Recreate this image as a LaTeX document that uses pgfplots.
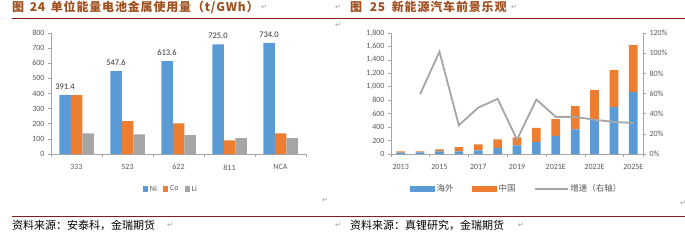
\documentclass[border=0pt]{standalone}
\usepackage{pgfplots}
\pgfplotsset{compat=1.18}
\usepackage{fontspec}
\setmainfont{Carlito}
\newfontfamily\cjk{Noto Sans CJK SC}
\newfontfamily\cjkt{Noto Sans CJK SC}[LetterSpace=7]
\newfontfamily\dejavu{DejaVu Sans}
\definecolor{cblue}{HTML}{5B9BD5}
\definecolor{corange}{HTML}{ED7D31}
\definecolor{cgray}{HTML}{A5A5A5}
\definecolor{txt}{HTML}{595959}
\definecolor{ttl}{HTML}{A0501E}
\definecolor{rulec}{HTML}{8B1A1A}
\begin{document}
\begin{tikzpicture}[x=1pt,y=1pt]
\path[use as bounding box] (0,0) rectangle (685,242);
\pgfplotsset{
 base/.style={scale only axis, clip=false, tick align=outside,
 axis line style={draw=black!35, line width=0.6pt},
 tick style={draw=black!35, line width=0.6pt},
 ticklabel style={font=\fontsize{8}{9}\selectfont, text=txt},
 /pgf/number format/assume math mode=true,
 /pgf/number format/1000 sep={,},
 major tick length=3pt, minor tick length=3pt},
}
% ---------- titles, rules, sources
\node[anchor=west, inner sep=0, text=ttl, font=\cjkt\bfseries\fontsize{12}{14}\selectfont] at (12,235) {图\hspace{2pt} 24\hspace{2pt} 单位能量电池金属使用量（t/GWh）};
\node[anchor=west, inner sep=0, text=ttl, font=\cjkt\bfseries\fontsize{12}{14}\selectfont] at (350,235) {图\hspace{4pt} 25\hspace{3pt} 新能源汽车前景乐观};
\draw[rulec, line width=0.9pt] (12,224) -- (685,224);
\draw[rulec, line width=0.9pt] (12,26) -- (685,26);
\node[anchor=west, inner sep=0, font=\cjk\fontsize{11}{13}\selectfont] at (12,16.5) {资料来源：安泰科，金瑞期货};
\node[anchor=west, inner sep=0, font=\cjk\fontsize{11}{13}\selectfont] at (350,16.5) {资料来源：真锂研究，金瑞期货};
\begin{scope}[every node/.style={text=black!40, font=\dejavu\fontsize{7}{8}\selectfont, inner sep=0}]
\node at (264,235) {↵};
\node at (338,235) {↵};
\node at (338,217) {↵};
\node at (325,42) {↵};
\node at (338,17) {↵};
\node at (170,17) {↵};
\node at (514,235) {↵};
\node at (683,39) {↵};
\node at (521,17) {↵};
\end{scope}
% ---------- left chart
\begin{axis}[base, at={(51pt,88pt)}, anchor=south west, width=255pt, height=121pt,
 ybar=0pt, bar width=11.5pt, xmin=-0.5, xmax=4.5, ymin=0, ymax=800,
 xtick={0,1,2,3,4}, xticklabels={333,523,622,811,NCA},
 minor xtick={-0.5,0.5,1.5,2.5,3.5,4.5},
 major x tick style={draw=none},
 ytick={0,100,...,800},
 axis x line*=bottom, axis y line*=left,
 xticklabel style={yshift=-4pt},
 legend style={at={(0.47,-0.29)}, anchor=center, draw=none, fill=none, legend columns=3,
   font=\fontsize{8}{9}\selectfont, text=txt,
   /tikz/every even column/.append style={column sep=4pt}},
 legend image code/.code={\fill[#1] (0pt,-2.6pt) rectangle (5.2pt,2.6pt);},
]
\addplot[fill=cblue, draw=none, nodes near coords, point meta=explicit symbolic,
 nodes near coords style={font=\fontsize{8.5}{10}\selectfont, text=black!80, anchor=south, yshift=2pt}]
 coordinates {(0,391.4)[391.4] (1,547.6)[547.6] (2,613.6)[613.6] (3,725.0)[725.0] (4,734.0)[734.0]};
\addplot[fill=corange, draw=none] coordinates {(0,389) (1,217) (2,203) (3,90) (4,137)};
\addplot[fill=cgray, draw=none] coordinates {(0,137) (1,130) (2,124) (3,105) (4,105)};
\legend{Ni,Co,Li}
\end{axis}
% ---------- right chart: bars
\begin{axis}[base, at={(391pt,88pt)}, anchor=south west, width=252pt, height=121pt,
 ybar stacked, bar width=8.7pt, xmin=-0.5, xmax=12.5, ymin=0, ymax=1800,
 xtick={0,2,4,6,8,10,12}, xticklabels={2013,2015,2017,2019,2021E,2023E,2025E},
 minor xtick={-0.5,1.5,3.5,5.5,7.5,9.5,11.5,12.5},
 major x tick style={draw=none},
 ytick={0,200,...,1800},
 axis x line*=bottom, axis y line*=left,
 xticklabel style={yshift=-4pt},
 legend style={at={(0.498,-0.29)}, anchor=center, draw=none, fill=none, legend columns=3,
   font=\cjk\fontsize{8.5}{10}\selectfont, text=txt,
   /tikz/every even column/.append style={column sep=16pt}},
 legend image code/.code={\fill[#1] (0pt,-2.8pt) rectangle (25pt,2.8pt);},
]
\addplot[fill=cblue, draw=none] coordinates {(0,20) (1,25) (2,40) (3,40) (4,55) (5,90) (6,129) (7,179) (8,268) (9,368) (10,512) (11,696) (12,925)};
\addplot[fill=corange, draw=none] coordinates {(0,20) (1,15) (2,30) (3,64) (4,89) (5,129) (6,120) (7,209) (8,249) (9,343) (10,438) (11,552) (12,696)};
\addlegendimage{legend image code/.code={\draw[cgray, line width=1.8pt] (0pt,0pt) -- (33pt,0pt);}}
\legend{海外,中国,增速（右轴）}
\end{axis}
% ---------- right chart: growth line
\begin{axis}[base, at={(391pt,88pt)}, anchor=south west, width=252pt, height=121pt,
 xmin=-0.5, xmax=12.5, ymin=0, ymax=120,
 axis x line=none, axis y line*=right,
 ytick={0,20,...,120}, yticklabel={\pgfmathprintnumber{\tick}\%},
]
\addplot[cgray, line width=1.8pt, mark=none] coordinates {(1,59.3) (2,101.4) (3,28.5) (4,46) (5,54.7) (6,14.3) (7,54) (8,36.8) (9,36.8) (10,34) (11,31.8) (12,30.8)};
\end{axis}
\end{tikzpicture}
\end{document}
